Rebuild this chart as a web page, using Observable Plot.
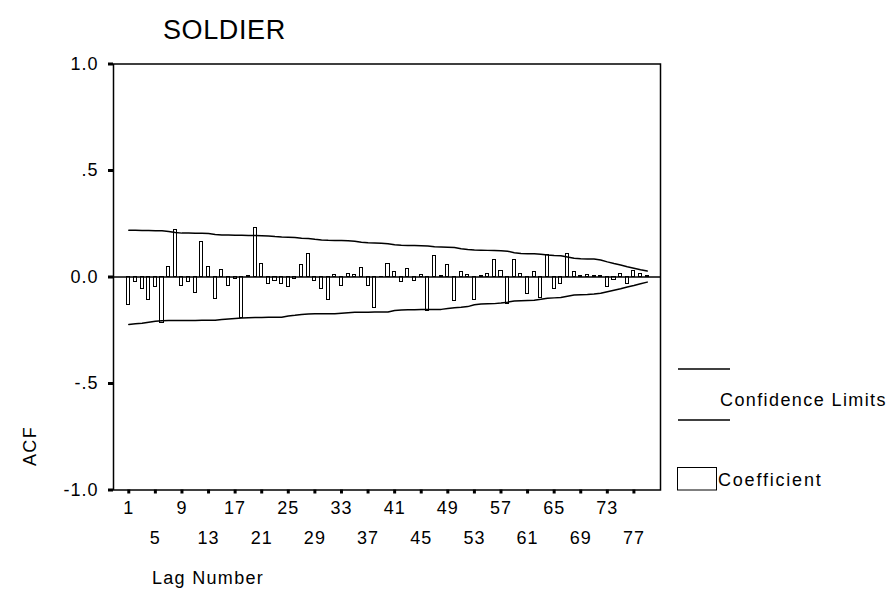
<!DOCTYPE html>
<html>
<head>
<meta charset="utf-8">
<script src="https://cdn.jsdelivr.net/npm/d3@7"></script>
<script src="https://cdn.jsdelivr.net/npm/@observablehq/plot@0.6"></script>
<style>
  html, body { margin: 0; padding: 0; background: #fff; }
  svg { display: block; }
</style>
</head>
<body>
<div id="chart"></div>
<script>
// Lag numbers 1..79
const lags = [1,2,3,4,5,6,7,8,9,10,11,12,13,14,15,16,17,18,19,20,
  21,22,23,24,25,26,27,28,29,30,31,32,33,34,35,36,37,38,39,40,
  41,42,43,44,45,46,47,48,49,50,51,52,53,54,55,56,57,58,59,60,
  61,62,63,64,65,66,67,68,69,70,71,72,73,74,75,76,77,78,79];

// ACF coefficients
const acf = [-0.130,-0.024,-0.058,-0.106,-0.045,-0.218,0.048,0.222,-0.043,-0.024,
  -0.077,0.166,0.048,-0.104,0.031,-0.043,-0.010,-0.192,0.003,0.229,
  0.060,-0.032,-0.020,-0.033,-0.048,-0.010,0.055,0.109,-0.018,-0.057,
  -0.106,0.011,-0.041,0.015,0.008,0.040,-0.042,-0.144,0.002,0.062,
  0.023,-0.024,0.038,-0.018,0.008,-0.161,0.100,0.003,0.054,-0.114,
  0.023,0.008,-0.107,0.004,0.015,0.080,0.030,-0.129,0.080,0.015,
  -0.082,0.023,-0.100,0.104,-0.056,-0.035,0.109,0.023,0.004,0.010,
  0.004,0.006,-0.048,-0.016,0.015,-0.035,0.030,0.015,0.003];

// Upper confidence limit
const upperLimit = [0.219,0.219,0.218,0.218,0.217,0.217,0.214,0.209,0.206,0.206,
  0.205,0.205,0.204,0.200,0.197,0.197,0.196,0.196,0.195,0.195,
  0.194,0.193,0.190,0.188,0.187,0.185,0.182,0.181,0.177,0.174,
  0.172,0.171,0.171,0.170,0.168,0.163,0.161,0.160,0.159,0.156,
  0.151,0.149,0.148,0.148,0.147,0.146,0.142,0.141,0.140,0.138,
  0.133,0.129,0.127,0.126,0.125,0.124,0.123,0.121,0.114,0.110,
  0.109,0.109,0.107,0.103,0.101,0.100,0.094,0.088,0.086,0.085,
  0.084,0.080,0.071,0.063,0.056,0.048,0.041,0.034,0.028];

// Lower confidence limit
const lowerLimit = [-0.223,-0.220,-0.217,-0.212,-0.208,-0.205,-0.204,-0.204,-0.204,-0.204,
  -0.204,-0.203,-0.203,-0.203,-0.200,-0.197,-0.195,-0.193,-0.191,-0.190,
  -0.190,-0.189,-0.189,-0.189,-0.183,-0.180,-0.176,-0.174,-0.173,-0.173,
  -0.172,-0.172,-0.170,-0.168,-0.166,-0.165,-0.165,-0.164,-0.164,-0.164,
  -0.157,-0.155,-0.154,-0.154,-0.153,-0.153,-0.152,-0.152,-0.148,-0.144,
  -0.142,-0.139,-0.130,-0.127,-0.126,-0.125,-0.122,-0.118,-0.113,-0.111,
  -0.110,-0.109,-0.105,-0.100,-0.098,-0.096,-0.090,-0.085,-0.083,-0.082,
  -0.080,-0.076,-0.069,-0.062,-0.055,-0.047,-0.040,-0.032,-0.024];

const xTicksRow1 = [1,9,17,25,33,41,49,57,65,73];
const xTicksRow2 = [5,13,21,29,37,45,53,61,69,77];
const yTicks = [-1, -0.5, 0, 0.5, 1];
const yTickLabels = ["-1.0", "-.5", "0.0", ".5", "1.0"];

const titleText = "SOLDIER";
const xLabel = "Lag Number";
const yLabel = "ACF";
const legendLimits = "Confidence Limits";
const legendCoef = "Coefficient";

const rows = lags.map((lag, i) => ({lag, acf: acf[i], upper: upperLimit[i], lower: lowerLimit[i]}));

const chart = Plot.plot({
  width: 892,
  height: 613,
  marginLeft: 113,
  marginRight: 232,
  marginTop: 63.5,
  marginBottom: 123.5,
  style: {
    fontFamily: "'Liberation Sans', Arial, sans-serif",
    fontSize: "18px",
    color: "black",
    background: "white",
    letterSpacing: "1px"
  },
  x: {domain: [-1.3, 81]},
  y: {domain: [-1, 1]},
  marks: [
    Plot.rect(rows, {
      x1: d => d.lag - 0.23, x2: d => d.lag + 0.23,
      y1: d => 0, y2: "acf",
      fill: "white", stroke: "black", strokeWidth: 1, shapeRendering: "crispEdges"
    }),
    Plot.line(rows, {x: "lag", y: "upper", stroke: "black", strokeWidth: 1.5}),
    Plot.line(rows, {x: "lag", y: "lower", stroke: "black", strokeWidth: 1.5}),
    Plot.ruleY([0], {stroke: "black", strokeWidth: 1.5}),
    Plot.frame({stroke: "black", strokeWidth: 1.5}),
    Plot.axisY(yTicks, {
      tickFormat: d => yTickLabels[yTicks.indexOf(d)],
      tickSize: 5, strokeWidth: 3, tickPadding: 10, label: null
    }),
    Plot.axisX(xTicksRow1, {tickSize: 4, strokeWidth: 3, tickPadding: 7, label: null}),
    Plot.axisX(xTicksRow2, {tickSize: 4, strokeWidth: 3, tickPadding: 37, label: null})
  ]
});

document.getElementById("chart").appendChild(chart);

const svg = d3.select(chart);

svg.append("text")
  .attr("x", 163).attr("y", 39)
  .attr("text-anchor", "start")
  .attr("font-size", 27).attr("letter-spacing", "0.6px")
  .attr("fill", "black")
  .text(titleText);

svg.append("text")
  .attr("x", 152).attr("y", 584)
  .attr("text-anchor", "start")
  .attr("font-size", 18).attr("letter-spacing", "1.3px")
  .attr("fill", "black")
  .text(xLabel);

svg.append("text")
  .attr("transform", "translate(36,446) rotate(-90)")
  .attr("text-anchor", "middle")
  .attr("font-size", 18).attr("letter-spacing", "1.3px")
  .attr("fill", "black")
  .text(yLabel);

// Legend
const lg = svg.append("g").attr("fill", "none").attr("stroke", "black");
lg.append("line").attr("x1", 678).attr("x2", 730).attr("y1", 369).attr("y2", 369).attr("stroke-width", 1.5);
lg.append("line").attr("x1", 678).attr("x2", 730).attr("y1", 420).attr("y2", 420).attr("stroke-width", 1.5);
lg.append("rect").attr("x", 677.5).attr("y", 467.5).attr("width", 39).attr("height", 22.5).attr("stroke-width", 1);
svg.append("text")
  .attr("x", 720).attr("y", 406)
  .attr("text-anchor", "start")
  .attr("font-size", 18).attr("letter-spacing", "1.4px")
  .attr("fill", "black")
  .text(legendLimits);
svg.append("text")
  .attr("x", 718).attr("y", 486)
  .attr("text-anchor", "start")
  .attr("font-size", 18).attr("letter-spacing", "1.8px")
  .attr("fill", "black")
  .text(legendCoef);
</script>
</body>
</html>
